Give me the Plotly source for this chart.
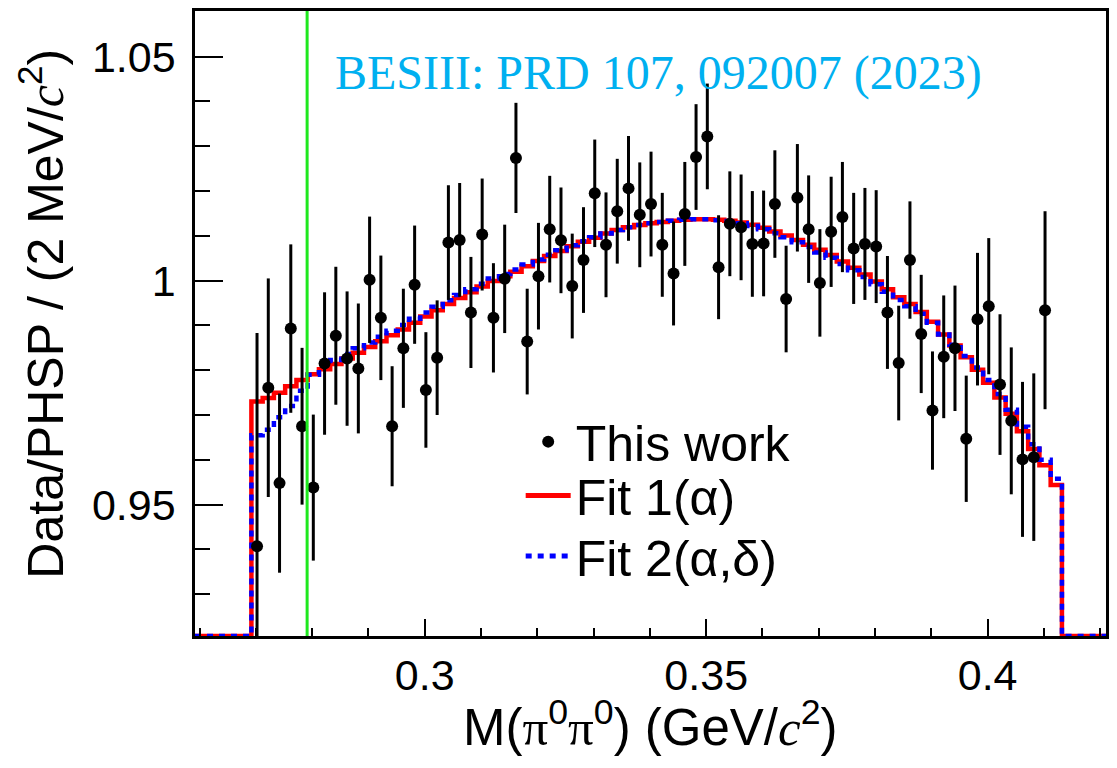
import plotly.graph_objects as go

# ---------------- data ----------------
BIN_LO = 0.2692          # lower edge of first filled bin (GeV/c^2)
BIN_W = 0.002            # 2 MeV bins
N_FIT_BINS = 72
X_RANGE = [0.25918, 0.42103]
Y_RANGE = [0.92067, 1.0602]
THRESHOLD_X = 0.2791     # green vertical line

data_ratio = [0.9407, 0.9761, 0.9548, 0.9893, 0.9675, 0.9538, 0.9815, 0.9877, 0.9826, 0.9804,
              1.0002, 0.9917, 0.9675, 0.9849, 0.9991, 0.9756, 0.9828, 1.0085, 1.0091, 0.9929,
              1.0103, 0.9917, 1.0004, 1.0274, 0.9864, 1.0010, 1.0115, 1.0090, 0.9988, 1.0046,
              1.0195, 1.0080, 1.0155, 1.0206, 1.0147, 1.0171, 1.0080, 1.0016, 1.0149, 1.0276,
              1.0322, 1.0030, 1.0127, 1.0119, 1.0082, 1.0083, 1.0171, 0.9959, 1.0185, 1.0115,
              0.9995, 1.0109, 1.0142, 1.0072, 1.0082, 1.0076, 0.9929, 0.9816, 1.0046, 0.9881,
              0.9710, 0.9830, 0.9849, 0.9647, 0.9914, 0.9943, 0.9768, 0.9687, 0.9601, 0.9606,
              0.9934]
data_err = [0.0476, 0.0244, 0.0200, 0.0188, 0.0175, 0.0163, 0.0159, 0.0154, 0.0150, 0.0145,
            0.0141, 0.0139, 0.0134, 0.0133, 0.0132, 0.0129, 0.0128, 0.0128, 0.0127, 0.0124,
            0.0125, 0.0122, 0.0121, 0.0123, 0.0118, 0.0119, 0.0119, 0.0118, 0.0117, 0.0118,
            0.0120, 0.0117, 0.0117, 0.0117, 0.0117, 0.0117, 0.0116, 0.0116, 0.0116, 0.0118,
            0.0118, 0.0116, 0.0117, 0.0118, 0.0118, 0.0118, 0.0120, 0.0119, 0.0120, 0.0120,
            0.0120, 0.0123, 0.0123, 0.0124, 0.0125, 0.0126, 0.0126, 0.0128, 0.0131, 0.0132,
            0.0132, 0.0137, 0.0140, 0.0141, 0.0148, 0.0152, 0.0157, 0.0164, 0.0173, 0.0187,
            0.0221]

fit1 = [0.9730, 0.9738, 0.9750, 0.9764, 0.9778, 0.9791, 0.9802, 0.9814, 0.9826, 0.9839,
        0.9852, 0.9865, 0.9878, 0.9891, 0.9906, 0.9920, 0.9934, 0.9948, 0.9961, 0.9974,
        0.9987, 0.9999, 1.0010, 1.0020, 1.0032, 1.0044, 1.0055, 1.0066, 1.0077, 1.0087,
        1.0096, 1.0105, 1.0113, 1.0119, 1.0124, 1.0128, 1.0131, 1.0134, 1.0136, 1.0137,
        1.0137, 1.0136, 1.0134, 1.0130, 1.0125, 1.0118, 1.0110, 1.0101, 1.0091, 1.0080,
        1.0069, 1.0057, 1.0043, 1.0029, 1.0014, 0.9998, 0.9981, 0.9963, 0.9948, 0.9930,
        0.9908, 0.9880, 0.9855, 0.9829, 0.9801, 0.9772, 0.9739, 0.9703, 0.9664, 0.9624,
        0.9588, 0.9544]
fit2 = [0.9655, 0.9667, 0.9695, 0.9720, 0.9754, 0.9790, 0.9810, 0.9823, 0.9836, 0.9849,
        0.9862, 0.9875, 0.9888, 0.9901, 0.9915, 0.9929, 0.9942, 0.9956, 0.9968, 0.9981,
        0.9993, 1.0005, 1.0015, 1.0025, 1.0036, 1.0047, 1.0058, 1.0068, 1.0079, 1.0088,
        1.0097, 1.0105, 1.0113, 1.0119, 1.0124, 1.0128, 1.0131, 1.0134, 1.0136, 1.0137,
        1.0137, 1.0135, 1.0133, 1.0128, 1.0122, 1.0115, 1.0106, 1.0097, 1.0086, 1.0075,
        1.0063, 1.0051, 1.0037, 1.0023, 1.0008, 0.9992, 0.9975, 0.9957, 0.9943, 0.9926,
        0.9906, 0.9880, 0.9857, 0.9832, 0.9806, 0.9778, 0.9747, 0.9712, 0.9674, 0.9635,
        0.9600, 0.9558]

# ---------------- derived ----------------
centers = [BIN_LO + BIN_W * (i + 0.5) for i in range(len(data_ratio))]
edges = [BIN_LO + BIN_W * i for i in range(N_FIT_BINS + 1)]
floor = Y_RANGE[0]
hist_x = [X_RANGE[0]] + edges + [X_RANGE[1]]


def hist_y(vals):
    return [floor] + list(vals) + [floor, floor]


fig = go.Figure()
fig.add_trace(go.Scatter(x=hist_x, y=hist_y(fit1), mode="lines", name="Fit 1(α)",
                         line=dict(color="#ff0000", width=4.5, shape="hv"), legend="legend2"))
fig.add_trace(go.Scatter(x=hist_x, y=hist_y(fit2), mode="lines", name="Fit 2(α,δ)",
                         line=dict(color="#0000ff", width=4.5, shape="hv", dash="6px,6px"),
                         legend="legend3"))
fig.add_trace(go.Scatter(x=centers, y=data_ratio, mode="markers", name="This work",
                         marker=dict(color="black", size=12),
                         error_y=dict(type="data", array=data_err, thickness=3, width=0,
                                      color="black"),
                         legend="legend"))

fig.add_shape(type="line", x0=THRESHOLD_X, x1=THRESHOLD_X, y0=0, y1=1,
              xref="x", yref="y domain", line=dict(color="#1ee81e", width=3), layer="above")

axis_common = dict(showline=True, mirror=True, linecolor="black", linewidth=2.5,
                   showgrid=False, zeroline=False, ticks="inside", tickcolor="black",
                   tickwidth=2, tick0=0, dtick=0.05,
                   tickfont=dict(family="Liberation Sans", size=43, color="black"))

legend_common = dict(xanchor="left", yanchor="middle", itemwidth=45,
                     font=dict(family="Liberation Sans", size=50, color="black"),
                     bgcolor="rgba(0,0,0,0)", itemsizing="constant")
LEG_X = 0.3575

fig.update_layout(
    width=1117, height=768,
    margin=dict(l=195, r=10, t=8, b=132),
    paper_bgcolor="white", plot_bgcolor="white",
    xaxis=dict(range=X_RANGE, ticklen=17, ticklabelstandoff=0,
               minor=dict(dtick=0.01, tick0=0, ticklen=8, tickwidth=2, ticks="inside",
                          tickcolor="black"),
               **axis_common),
    yaxis=dict(range=Y_RANGE, ticklen=28, ticklabelstandoff=8,
               minor=dict(dtick=0.01, tick0=0, ticklen=15, tickwidth=2, ticks="inside",
                          tickcolor="black"),
               **axis_common),
    showlegend=True,
    legend=dict(x=LEG_X, y=0.311, **legend_common),
    legend2=dict(x=LEG_X, y=0.225, **legend_common),
    legend3=dict(x=LEG_X, y=0.128, **legend_common),
    annotations=[
        dict(text='Data/PHSP / (2 MeV/<span style="font-family:Liberation Serif"><i>c</i></span><sup>2</sup>)',
             xref="paper", yref="paper", x=-0.1689, y=0.516, textangle=-90,
             showarrow=False, xanchor="center", yanchor="middle",
             font=dict(family="Liberation Sans", size=50, color="black")),
        dict(text='M(<span style="font-family:Liberation Serif">π</span><sup>0</sup>'
                  '<span style="font-family:Liberation Serif">π</span><sup>0</sup>) '
                  '(GeV/<span style="font-family:Liberation Serif"><i>c</i></span><sup>2</sup>)',
             xref="paper", yref="paper", x=0.5, y=-0.14,
             showarrow=False, xanchor="center", yanchor="middle",
             font=dict(family="Liberation Sans", size=51, color="black")),
        dict(text="BESIII: PRD 107, 092007 (2023)",
             xref="paper", yref="paper", x=0.1513, y=0.901,
             showarrow=False, xanchor="left", yanchor="middle",
             font=dict(family="Liberation Serif", size=48, color="#00b0f0")),
    ],
)

fig.write_html("out.html")
